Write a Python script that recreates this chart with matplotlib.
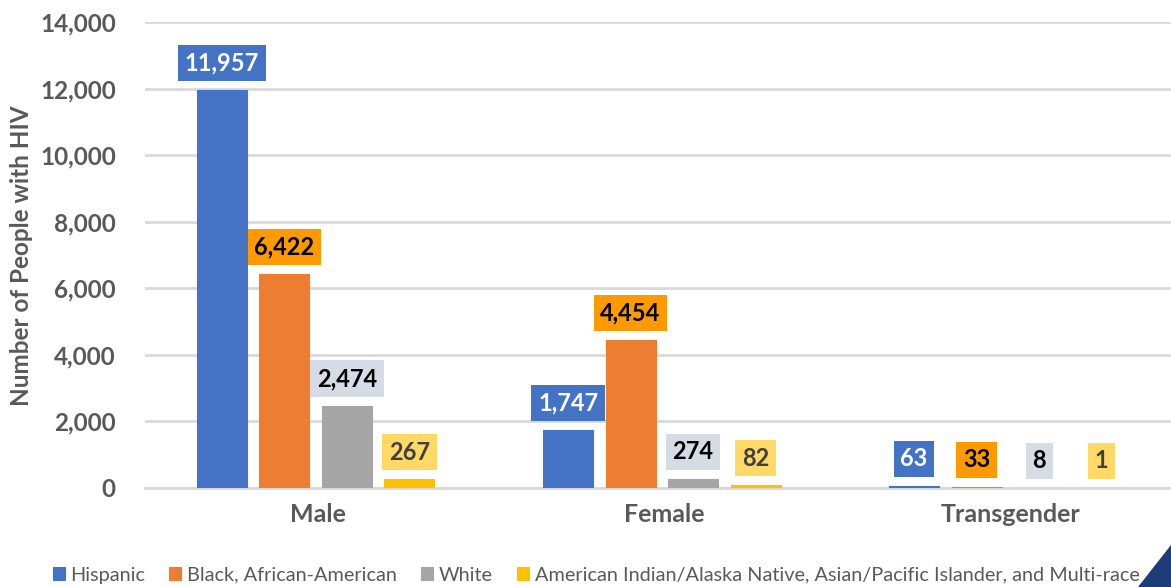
import numpy as np
import matplotlib
matplotlib.use('Agg')
import matplotlib.pyplot as plt
from matplotlib.patches import Polygon

categories = ['Male', 'Female', 'Transgender']
races = ['Hispanic', 'Black, African-American', 'White',
         'American Indian/Alaska Native, Asian/Pacific Islander, and Multi-race']
hispanic = [11957, 1747, 63]
black = [6422, 4454, 33]
white = [2474, 274, 8]
other = [267, 82, 1]
series = [hispanic, black, white, other]

bar_colors = ['#4472C4', '#ED7D31', '#A5A5A5', '#FFC000']
box_colors = ['#4472C4', '#FF9900', '#D6DCE5', '#FFD966']
text_colors = ['white', 'black', 'black', '#404040']
gray = '#595959'

plt.rcParams['font.family'] = ['Lato', 'DejaVu Sans']

fig = plt.figure(figsize=(11.71, 5.87), dpi=100)
ax = fig.add_axes([0.1238, 0.1687, 0.8762, 0.7938])

x = np.arange(len(categories))
step = 0.1806
width = 0.1445
for i, vals in enumerate(series):
    pos = x + (i - 1.5) * step - 0.0065
    ax.bar(pos, vals, width, color=bar_colors[i], edgecolor=bar_colors[i],
           linewidth=0.8, zorder=3, label=races[i])
    for px, v in zip(pos, vals):
        ax.annotate(f'{v:,}', (px, v), xytext=(0, 19.5), textcoords='offset points',
                    ha='center', va='center', fontsize=17, fontweight='bold',
                    color=text_colors[i], zorder=5,
                    bbox=dict(boxstyle='square,pad=0.28', fc=box_colors[i], ec='none'))

ax.set_ylim(0, 14000)
ax.set_xlim(-0.5, 2.465)
ax.set_yticks(np.arange(0, 14001, 2000))
ax.yaxis.set_major_formatter(matplotlib.ticker.FuncFormatter(lambda v, p: f'{int(v):,}'))
ax.set_xticks(x)
ax.set_xticklabels(categories)
ax.grid(axis='y', color='#D9D9D9', linewidth=2, zorder=0)
ax.set_axisbelow(True)
for s in ['top', 'right', 'left']:
    ax.spines[s].set_visible(False)
ax.spines['bottom'].set_color('#D9D9D9')
ax.spines['bottom'].set_linewidth(2)
ax.tick_params(axis='y', length=0, labelsize=17.5, labelcolor=gray, pad=21)
ax.tick_params(axis='x', length=0, labelsize=18, labelcolor=gray, pad=11)
for t in ax.get_xticklabels() + ax.get_yticklabels():
    t.set_fontweight('bold')

fig.text(0.018, 0.564, 'Number of People with HIV', rotation=90, ha='center', va='center',
         fontsize=17.5, fontweight='bold', color=gray)

leg = fig.legend(loc='center', bbox_to_anchor=(0.509, 0.02), ncol=4, frameon=False,
                 fontsize=14.3, handlelength=0.6, handleheight=0.6, handletextpad=0.3,
                 columnspacing=1.2, labelcolor=gray)

# corner decoration
fig.patches.append(Polygon([[1138 / 1171, 0], [1, 0], [1, 42 / 587]], closed=True,
                           transform=fig.transFigure, color='#1F3C7A'))

fig.savefig('out.png', dpi=100)
